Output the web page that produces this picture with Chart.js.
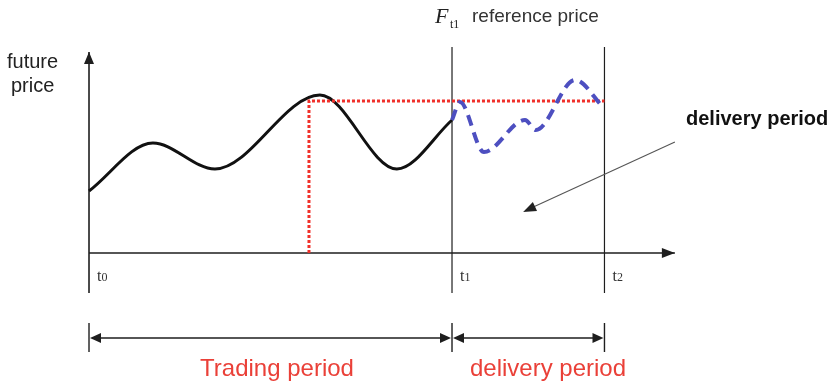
<!DOCTYPE html>
<html>
<head>
<meta charset="utf-8">
<script src="https://cdn.jsdelivr.net/npm/chart.js@4.4.1/dist/chart.umd.min.js"></script>
<style>
  html, body { margin: 0; padding: 0; background: #fff; overflow: hidden; }
  canvas { display: block; }
</style>
</head>
<body>
<canvas id="priceChart" width="832" height="386"></canvas>
<script>
// time marks on the horizontal axis
const timeLabels = ['t0', 't1', 't2'];
const timePoints = [0, 100, 142];

// futures price during the trading period (black curve)
const tradingTime = [0, 17.6, 34.7, 63.6, 84.8, 100];
const tradingPrice = [6.2, 11.0, 8.4, 15.8, 8.4, 13.3];

// price during the delivery period (blue dashed curve)
const deliveryTime = [100, 102.2, 108.8, 120.1, 123.1, 133.9, 141.6];
const deliveryPrice = [13.3, 15.1, 10.1, 13.3, 12.3, 17.3, 14.6];

// reference price F_t1 (red dotted lines)
const refTime = 60.6;
const refPrice = 15.2;

// period labels under the axis
const periodLabels = ['Trading period', 'delivery period'];

const toPoints = (xs, ys) => xs.map((x, i) => ({ x: x, y: ys[i] }));

function arrowHead(ctx, x1, y1, x2, y2, len, half) {
    const a = Math.atan2(y2 - y1, x2 - x1);
    ctx.beginPath();
    ctx.moveTo(x2, y2);
    ctx.lineTo(x2 - len * Math.cos(a) + half * Math.sin(a), y2 - len * Math.sin(a) - half * Math.cos(a));
    ctx.lineTo(x2 - len * Math.cos(a) - half * Math.sin(a), y2 - len * Math.sin(a) + half * Math.cos(a));
    ctx.closePath();
    ctx.fill();
}

function line(ctx, x1, y1, x2, y2) {
    ctx.beginPath();
    ctx.moveTo(x1, y1);
    ctx.lineTo(x2, y2);
    ctx.stroke();
}

const diagramPlugin = {
    id: 'diagram',
    beforeDatasetsDraw(chart) {
        const ctx = chart.ctx;
        const xs = chart.scales.x, ys = chart.scales.y;
        const px = v => xs.getPixelForValue(v);
        const py = v => ys.getPixelForValue(v);
        ctx.save();
        ctx.strokeStyle = '#1e1e1e';
        ctx.fillStyle = '#1e1e1e';

        // axes with arrows
        ctx.lineWidth = 1.6;
        line(ctx, px(0), py(-4), px(0), py(20.1));
        arrowHead(ctx, px(0), py(0), px(0), py(20.1), 12, 5);
        line(ctx, px(0), py(0), px(161.4), py(0));
        arrowHead(ctx, px(0), py(0), px(161.4), py(0), 13, 5);

        // t1 and t2 vertical lines
        ctx.lineWidth = 1.2;
        timePoints.slice(1).forEach(t => line(ctx, px(t), py(-4), px(t), py(20.6)));
        ctx.restore();
    },
    afterDatasetsDraw(chart) {
        const ctx = chart.ctx;
        const xs = chart.scales.x, ys = chart.scales.y;
        const px = v => xs.getPixelForValue(v);
        const py = v => ys.getPixelForValue(v);
        ctx.save();
        ctx.textBaseline = 'alphabetic';

        // t labels
        ctx.fillStyle = '#333';
        timeLabels.forEach((lab, i) => {
            const x = px(timePoints[i]) + 8;
            ctx.font = '16px "Liberation Serif"';
            ctx.fillText(lab[0], x, 281);
            const w = ctx.measureText(lab[0]).width;
            ctx.font = '12px "Liberation Serif"';
            ctx.fillText(lab.slice(1), x + w, 281);
        });

        // y axis title
        ctx.fillStyle = '#222';
        ctx.font = '20px "Liberation Sans"';
        ctx.fillText('future', 7, 68);
        ctx.fillText('price', 11, 92);

        // F_t1 reference price
        ctx.font = 'italic 22px "Liberation Serif"';
        ctx.fillText('F', 435, 23);
        ctx.font = '12px "Liberation Serif"';
        ctx.fillText('t1', 450, 28);
        ctx.font = '19px "Liberation Sans"';
        ctx.fillStyle = '#333';
        ctx.fillText('reference price', 472, 22);

        // delivery period callout
        ctx.fillStyle = '#111';
        ctx.font = 'bold 20px "Liberation Sans"';
        ctx.fillText('delivery period', 686, 125);
        ctx.strokeStyle = '#555';
        ctx.fillStyle = '#222';
        ctx.lineWidth = 1.1;
        const ax1 = px(161.4), ay1 = py(11.1), ax2 = px(119.6), ay2 = py(4.1);
        line(ctx, ax1, ay1, ax2 + 8, ay2 - 4);
        arrowHead(ctx, ax1, ay1, ax2, ay2, 13, 5);

        // period brackets
        const by = py(-8.5);
        ctx.strokeStyle = '#1e1e1e';
        ctx.fillStyle = '#1e1e1e';
        ctx.lineWidth = 1.4;
        timePoints.forEach(t => line(ctx, px(t), py(-7), px(t), py(-9.9)));
        for (let i = 0; i < 2; i++) {
            const a = px(timePoints[i]) + 1, b = px(timePoints[i + 1]) - 1;
            line(ctx, a + 6, by, b - 6, by);
            arrowHead(ctx, b, by, a, by, 11, 5);
            arrowHead(ctx, a, by, b, by, 11, 5);
        }

        // period names
        ctx.fillStyle = '#ea4038';
        ctx.font = '24px "Liberation Sans"';
        ctx.textAlign = 'center';
        ctx.fillText(periodLabels[0], 277, 376);
        ctx.fillText(periodLabels[1], 548, 376);
        ctx.restore();
    }
};

new Chart(document.getElementById('priceChart'), {
    type: 'line',
    data: {
        datasets: [
            {
                label: 'delivery',
                data: toPoints(deliveryTime, deliveryPrice),
                borderColor: '#4d4fc0',
                borderWidth: 4,
                borderDash: [11, 7],
                cubicInterpolationMode: 'monotone',
                pointRadius: 0,
                order: 0
            },
            {
                label: 'reference',
                data: [{ x: refTime, y: 0 }, { x: refTime, y: refPrice }, { x: timePoints[2], y: refPrice }],
                borderColor: '#f0302a',
                borderWidth: 3,
                borderDash: [3, 2],
                tension: 0,
                pointRadius: 0,
                order: 1
            },
            {
                label: 'trading',
                data: toPoints(tradingTime, tradingPrice),
                borderColor: '#111',
                borderWidth: 3,
                cubicInterpolationMode: 'monotone',
                pointRadius: 0,
                order: 2
            }
        ]
    },
    options: {
        responsive: false,
        animation: false,
        layout: { padding: 0 },
        plugins: { legend: { display: false }, tooltip: { enabled: false } },
        scales: {
            x: { type: 'linear', display: false, min: -24.52, max: 204.68 },
            y: { type: 'linear', display: false, min: -13.3, max: 25.3 }
        }
    },
    plugins: [diagramPlugin]
});
</script>
</body>
</html>
